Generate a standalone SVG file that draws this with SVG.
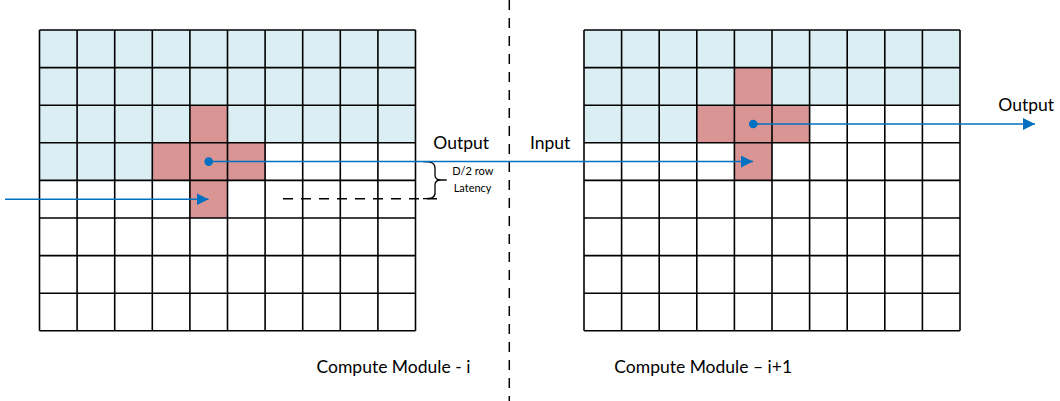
<svg xmlns="http://www.w3.org/2000/svg" width="1060" height="401" viewBox="0 0 1060 401">
<style>
.blue{fill:#DAEEF3}
.red{fill:#D99594}
.grid{fill:none;stroke:#000;stroke-width:1.6}
.conn{fill:none;stroke:#0070C0;stroke-width:1.5}
.dot{fill:#0070C0}
.dash{fill:none;stroke:#000;stroke-width:1.5;stroke-dasharray:10 8}
.brace{fill:none;stroke:#000;stroke-width:1.3}
.lbl{font-family:Lato,"Liberation Sans",sans-serif;font-size:17.5px;fill:#000}
.small{font-family:Lato,"Liberation Sans",sans-serif;font-size:11px;fill:#000}
</style>
<defs>
<marker id="arr" markerUnits="userSpaceOnUse" markerWidth="13" markerHeight="12" refX="12" refY="6" orient="auto">
<path d="M0,0 L12,6 L0,12 Z" fill="#0070C0"/>
</marker>
</defs>
<rect width="1060" height="401" fill="#fff"/>
<g id="module-i">
<rect class="blue" x="39.5" y="30" width="376" height="75.2"/>
<rect class="blue" x="39.5" y="105.2" width="150.4" height="37.6"/>
<rect class="blue" x="227.5" y="105.2" width="188" height="37.6"/>
<rect class="blue" x="39.5" y="142.8" width="112.8" height="37.6"/>
<rect class="red" x="189.9" y="105.2" width="37.6" height="37.6"/>
<rect class="red" x="152.3" y="142.8" width="112.8" height="37.6"/>
<rect class="red" x="189.9" y="180.4" width="37.6" height="37.6"/>
<path class="grid" d="M39.5,30V330.8M77.1,30V330.8M114.7,30V330.8M152.3,30V330.8M189.9,30V330.8M227.5,30V330.8M265.1,30V330.8M302.7,30V330.8M340.3,30V330.8M377.9,30V330.8M415.5,30V330.8M39.5,30H415.5M39.5,67.6H415.5M39.5,105.2H415.5M39.5,142.8H415.5M39.5,180.4H415.5M39.5,218H415.5M39.5,255.6H415.5M39.5,293.2H415.5M39.5,330.8H415.5"/>
<text class="lbl" x="316.5" y="373.3">Compute Module - i</text>
</g>
<g id="module-i1">
<rect class="blue" x="584" y="30" width="376" height="37.6"/>
<rect class="blue" x="584" y="67.6" width="150.4" height="37.6"/>
<rect class="blue" x="772" y="67.6" width="188" height="37.6"/>
<rect class="blue" x="584" y="105.2" width="112.8" height="37.6"/>
<rect class="red" x="734.4" y="67.6" width="37.6" height="37.6"/>
<rect class="red" x="696.8" y="105.2" width="112.8" height="37.6"/>
<rect class="red" x="734.4" y="142.8" width="37.6" height="37.6"/>
<path class="grid" d="M584,30V330.8M621.6,30V330.8M659.2,30V330.8M696.8,30V330.8M734.4,30V330.8M772,30V330.8M809.6,30V330.8M847.2,30V330.8M884.8,30V330.8M922.4,30V330.8M960,30V330.8M584,30H960M584,67.6H960M584,105.2H960M584,142.8H960M584,180.4H960M584,218H960M584,255.6H960M584,293.2H960M584,330.8H960"/>
<text class="lbl" x="614.3" y="373.3">Compute Module – i+1</text>
</g>
<g id="divider">
<path class="dash" d="M509.3,0V401"/>
</g>
<g id="latency">
<path class="dash" d="M283,198.7H443"/>
<path class="brace" d="M423,161.7C432,161.7 435,163 435,168V175Q435,180 441,180H446.7M441,180Q435,180 435,185V193C435,197.5 432,198.7 423,198.7"/>
<text class="small" x="452.3" y="175">D/2 row</text>
<text class="small" x="453.7" y="191.7">Latency</text>
</g>
<g id="labels">
<text class="lbl" x="433.3" y="149.3">Output</text>
<text class="lbl" x="530" y="149.3">Input</text>
<text class="lbl" x="998.3" y="110.7">Output</text>
</g>
<g id="connectors">
<path class="conn" d="M5,199.2H208.5" marker-end="url(#arr)"/>
<circle class="dot" cx="208.7" cy="161.6" r="4.3"/>
<path class="conn" d="M208.7,161.6H753" marker-end="url(#arr)"/>
<circle class="dot" cx="753.2" cy="124" r="4.3"/>
<path class="conn" d="M753.2,124H1035" marker-end="url(#arr)"/>
</g>
</svg>
